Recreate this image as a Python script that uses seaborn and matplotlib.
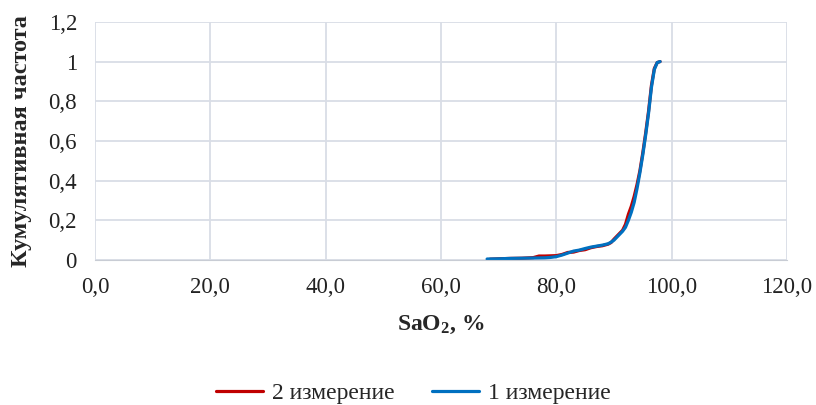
import matplotlib
matplotlib.use("Agg")
import matplotlib.pyplot as plt
import pandas as pd
import seaborn as sns

sao2_1 = [68.0, 70.0, 72.0, 74.0, 76.0, 78.0, 79.0, 80.0, 81.0, 82.0, 83.0, 84.0, 85.0, 86.0, 87.0,
          88.0, 89.0, 89.5, 90.0, 90.5, 91.0, 91.5, 92.0, 92.5, 93.0, 93.5, 94.0, 94.5, 95.0, 95.5,
          96.0, 96.5, 97.0, 97.5, 98.0]
freq_1 = [0.005, 0.006, 0.008, 0.009, 0.010, 0.011, 0.013, 0.017, 0.025, 0.035, 0.045, 0.050, 0.058,
          0.065, 0.070, 0.075, 0.082, 0.090, 0.100, 0.115, 0.130, 0.145, 0.165, 0.200, 0.240, 0.290,
          0.360, 0.440, 0.530, 0.630, 0.740, 0.870, 0.960, 0.995, 1.000]

sao2_2 = [68.5, 70.0, 72.0, 74.0, 76.0, 77.0, 78.0, 80.0, 81.0, 82.0, 83.0, 84.0, 85.0, 86.0, 87.0,
          88.0, 89.0, 89.5, 90.0, 90.5, 91.0, 91.5, 92.0, 92.5, 93.0, 93.5, 94.0, 94.5, 95.0, 95.5,
          96.0, 96.5, 97.0, 97.5, 98.0]
freq_2 = [0.004, 0.006, 0.008, 0.009, 0.012, 0.020, 0.020, 0.022, 0.028, 0.038, 0.040, 0.048, 0.052,
          0.062, 0.068, 0.072, 0.080, 0.088, 0.105, 0.120, 0.135, 0.150, 0.180, 0.230, 0.270, 0.320,
          0.380, 0.450, 0.540, 0.640, 0.750, 0.880, 0.965, 0.995, 1.000]

x_ticks = [0, 20, 40, 60, 80, 100, 120]
x_labels = ["0,0", "20,0", "40,0", "60,0", "80,0", "100,0", "120,0"]
y_ticks = [0, 0.2, 0.4, 0.6, 0.8, 1.0, 1.2]
y_labels = ["0", "0,2", "0,4", "0,6", "0,8", "1", "1,2"]

df = pd.concat([
    pd.DataFrame({"SaO2": sao2_2, "freq": freq_2, "series": "2 измерение"}),
    pd.DataFrame({"SaO2": sao2_1, "freq": freq_1, "series": "1 измерение"}),
])

sns.set_style("white")
plt.rcParams["font.family"] = ["Liberation Serif", "DejaVu Serif"]
plt.rcParams["mathtext.fontset"] = "custom"
plt.rcParams["mathtext.rm"] = "Liberation Serif"
plt.rcParams["mathtext.bf"] = "Liberation Serif:bold"

fig = plt.figure(figsize=(8.16, 4.05), dpi=100)
ax = fig.add_axes([0.1164, 0.358, 0.848, 0.588])

sns.lineplot(data=df, x="SaO2", y="freq", hue="series", sort=False, estimator=None,
             palette={"2 измерение": "#c00000", "1 измерение": "#0070c0"},
             linewidth=2.3, ax=ax)

ax.set_xlim(0, 120)
ax.set_ylim(0, 1.2)
ax.set_xticks(x_ticks)
ax.set_xticklabels(x_labels)
ax.set_yticks(y_ticks)
ax.set_yticklabels(y_labels)
ax.tick_params(labelsize=16.5, length=0, colors="#222222")
ax.tick_params(axis="x", pad=12)
ax.tick_params(axis="y", pad=13)
ax.grid(True, color="#d9dde6", linewidth=1.3)
for side in ["top", "right", "left"]:
    ax.spines[side].set_visible(False)
ax.spines["bottom"].set_color("#c8ccd4")

ax.set_xlabel(r"$\mathbf{SaO_2}$" + ", %", fontsize=17, fontweight="bold", labelpad=12)
ax.set_ylabel("Кумулятивная частота", fontsize=17.5, fontweight="bold", labelpad=12)

ax.legend(loc="upper center", bbox_to_anchor=(0.46, -0.425), ncol=2, frameon=False,
          fontsize=17, handlelength=2.0, handletextpad=0.35, columnspacing=1.6)

fig.savefig("out.png", dpi=100)
